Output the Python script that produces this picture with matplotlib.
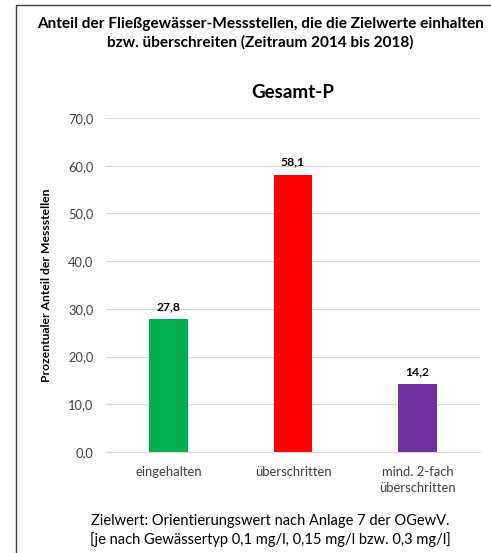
import numpy as np
import matplotlib.pyplot as plt
from matplotlib.patches import Rectangle

plt.rcParams['font.family'] = ['Lato', 'DejaVu Sans']

kategorien = ['eingehalten', 'überschritten', 'mind. 2-fach\nüberschritten']
anteile = [27.8, 58.1, 14.2]
farben = ['#00b050', '#ff0000', '#7030a0']
yticks = [0, 10, 20, 30, 40, 50, 60, 70]

fig = plt.figure(figsize=(4.91, 5.53), dpi=100)
ax = fig.add_axes([0.2159, 0.1826, 0.7617, 0.604])

# Rahmen um das Diagramm
fig.patches.append(Rectangle((16 / 491, -0.1), 1.2, 1.1 - 5 / 553, transform=fig.transFigure,
                             fill=False, edgecolor='#404040', linewidth=1.0))

x = np.arange(len(kategorien))
ax.bar(x, anteile, width=0.31, color=farben, zorder=3)
for xi, v in zip(x, anteile):
    ax.text(xi, v + 1.5, f'{v:.1f}'.replace('.', ','), ha='center', va='bottom',
            fontsize=8.7, fontweight='bold', color='#000000')

ax.set_xlim(-0.5, 2.5)
ax.set_ylim(0, 70)
ax.set_yticks(yticks)
ax.set_yticklabels([f'{t:.1f}'.replace('.', ',') for t in yticks], fontsize=9.3, color='#404040')
ax.set_xticks(x)
ax.set_xticklabels(kategorien, fontsize=9.4, color='#404040', linespacing=1.45)
ax.tick_params(axis='y', length=0, pad=9)
ax.tick_params(axis='x', length=0, pad=10)
ax.grid(axis='y', color='#d9d9d9', linewidth=0.8, zorder=0)
for s in ['top', 'right', 'left']:
    ax.spines[s].set_visible(False)
ax.spines['bottom'].set_color('#d9d9d9')
ax.spines['bottom'].set_zorder(4)

ax.set_ylabel('Prozentualer Anteil der Messstellen', fontsize=8.7, fontweight='bold',
              color='#000000')
ax.yaxis.set_label_coords(-0.144, 0.5)

fig.text(0.53, 0.940, 'Anteil der Fließgewässer-Messstellen, die die Zielwerte einhalten\n'
         'bzw. überschreiten (Zeitraum 2014 bis 2018)', ha='center', va='center',
         fontsize=11.1, fontweight='bold', linespacing=1.3)
fig.text(0.597, 0.832, 'Gesamt-P', ha='center', va='center', fontsize=13.5, fontweight='bold')
fig.text(0.55, 0.040, 'Zielwert: Orientierungswert nach Anlage 7 der OGewV.\n'
         '[je nach Gewässertyp 0,1 mg/l, 0,15 mg/l bzw. 0,3 mg/l]', ha='center', va='center',
         fontsize=10.5, linespacing=1.35)

fig.savefig('out.png', dpi=100)
